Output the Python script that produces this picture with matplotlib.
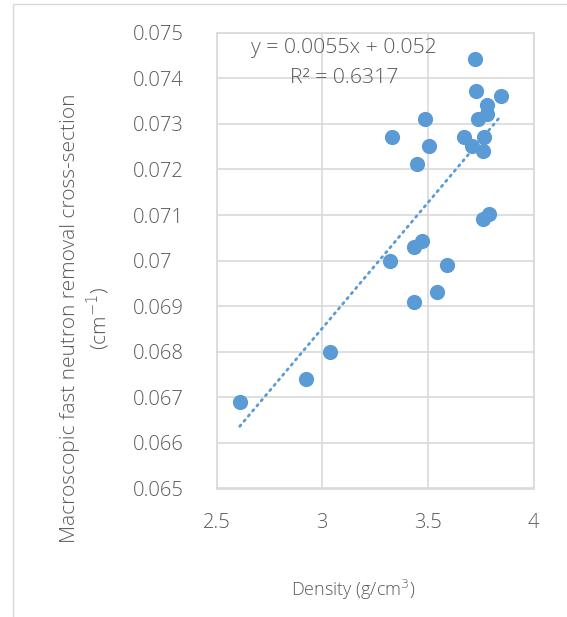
import numpy as np
import matplotlib.pyplot as plt
from matplotlib.patches import Rectangle

# density (g/cm3) and removal cross-section (cm-1)
density = [3.722, 3.727, 3.848, 3.779, 3.781, 3.738, 3.487, 3.330, 3.671,
           3.766, 3.709, 3.506, 3.760, 3.447, 3.790, 3.763, 3.472, 3.436,
           3.319, 3.589, 3.544, 3.435, 3.037, 2.924, 2.610]
sigma_r = [0.07442, 0.07372, 0.07361, 0.07341, 0.07321, 0.07311, 0.07311,
           0.07271, 0.07271, 0.07271, 0.07251, 0.07252, 0.07241, 0.07211,
           0.07102, 0.07091, 0.07042, 0.07029, 0.07000, 0.06991, 0.06931,
           0.06910, 0.06800, 0.06740, 0.06690]
x_ticks = [2.5, 3, 3.5, 4]
y_ticks = [0.065, 0.066, 0.067, 0.068, 0.069, 0.07, 0.071, 0.072, 0.073, 0.074, 0.075]

blue = '#5B9BD5'
grey_txt = '#595959'
grid_c = '#D9D9D9'

plt.rcParams['font.family'] = ['Open Sans', 'DejaVu Sans']
plt.rcParams['font.weight'] = 'light'

W, H = 567, 617
fig = plt.figure(figsize=(W / 100, H / 100), dpi=100)
ax = fig.add_axes([216.5 / W, 1 - 488.5 / H, 317 / W, 455.8 / H])

ax.scatter(density, sigma_r, s=120, color=blue, zorder=3, linewidths=0)

# linear trend, drawn over the data range
slope, icpt = np.polyfit(density, sigma_r, 1)
xs = np.array([min(density), max(density)])
ax.plot(xs, slope * xs + icpt, color=blue, lw=2, linestyle=(0, (0.6, 1.8)),
        dash_capstyle='round', zorder=2)

ax.set_xlim(2.5, 4)
ax.set_ylim(0.065, 0.075)
ax.set_xticks(x_ticks)
ax.set_xticklabels(['2.5', '3', '3.5', '4'])
ax.set_yticks(y_ticks)
ax.set_yticklabels(['0.065', '0.066', '0.067', '0.068', '0.069', '0.07',
                    '0.071', '0.072', '0.073', '0.074', '0.075'])
ax.tick_params(length=0, labelsize=14.5, colors=grey_txt)
ax.tick_params(axis='x', pad=18)
ax.tick_params(axis='y', pad=60)
for lbl in ax.get_yticklabels():
    lbl.set_horizontalalignment('left')
ax.grid(True, color=grid_c, lw=1.2)
ax.set_axisbelow(True)
for sp in ax.spines.values():
    sp.set_color(grid_c)
    sp.set_linewidth(1.2)

fig.text(353 / W, 1 - 590 / H, 'Density (g/cm$^3$)', ha='center', va='center',
         fontsize=13, color=grey_txt)
fig.text(86 / W, 1 - 318 / H,
         'Macroscopic fast neutron removal cross-section\n(cm$^{-1}$)',
         ha='center', va='center', rotation=90, fontsize=15, color=grey_txt,
         linespacing=1.2, multialignment='center')

fig.text(344 / W, 1 - 48 / H, 'y = 0.0055x + 0.052', ha='center', va='center',
         fontsize=15.3, color=grey_txt)
fig.text(344 / W, 1 - 78 / H, 'R² = 0.6317', ha='center', va='center',
         fontsize=15.3, color=grey_txt)

# chart area border
fig.patches.append(Rectangle((12.5 / W, -0.1), 1.0, 1 - 3.5 / H + 0.1,
                             transform=fig.transFigure, fill=False,
                             edgecolor=grid_c, lw=1))

plt.savefig('out.png', dpi=100)
